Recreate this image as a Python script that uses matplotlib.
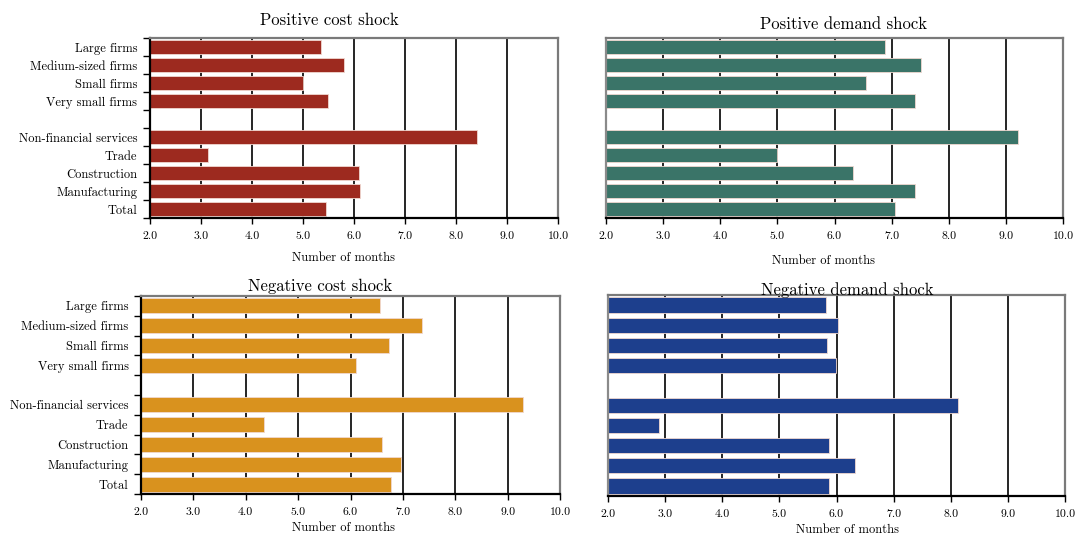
import matplotlib
matplotlib.use("Agg")
import matplotlib.pyplot as plt
from matplotlib.ticker import FixedLocator, FixedFormatter, NullFormatter

plt.rcParams['font.family'] = ['cmr10', 'DejaVu Serif']
plt.rcParams['axes.formatter.use_mathtext'] = True

# categories from top to bottom, '' is the empty gap row
categories = ["Large firms", "Medium-sized firms", "Small firms", "Very small firms", "",
              "Non-financial services", "Trade", "Construction", "Manufacturing", "Total"]

pos_cost = [5.35, 5.80, 5.00, 5.49, None, 8.42, 3.14, 6.10, 6.11, 5.45]
pos_demand = [6.89, 7.52, 6.56, 7.41, None, 9.21, 5.00, 6.32, 7.41, 7.06]
neg_cost = [6.57, 7.37, 6.74, 6.11, None, 9.30, 4.35, 6.61, 6.96, 6.78]
neg_demand = [5.82, 6.03, 5.83, 5.99, None, 8.13, 2.90, 5.87, 6.32, 5.87]

x_ticks = [2, 3, 4, 5, 6, 7, 8, 9, 10]
x_labels = ["2.0", "3.0", "4.0", "5.0", "6.0", "7.0", "8.0", "9.0", "10.0"]

W, H = 1075, 536
fig = plt.figure(figsize=(W / 100, H / 100), dpi=100)

panels = [
    # values, title, colour, axes rect (px: left, top, right, bottom), title px, xlabel px, labels?
    (pos_cost, "Positive cost shock", "#9d2a1f", (150, 38, 558, 218), (329, 20), (343, 258), True),
    (pos_demand, "Positive demand shock", "#3a7468", (606, 38, 1063, 218), (844, 24), (824, 261), False),
    (neg_cost, "Negative cost shock", "#d9921e", (141, 296, 560, 494), (320, 286), (344, 528), True),
    (neg_demand, "Negative demand shock", "#1d3f8d", (608, 295, 1065, 496), (847, 290), (848, 530), False),
]


def draw_panel(vals, title, color, rect, tpos, lpos, show_labels):
    l, t, r, b = rect
    ax = fig.add_axes([l / W, 1 - b / H, (r - l) / W, (b - t) / H])
    n = len(categories)
    ys = [n - 1 - i for i in range(n)]
    for y, v in zip(ys, vals):
        if v is None:
            continue
        ax.barh(y, v - 2, left=2, height=0.76, color=color,
                edgecolor="#f0d8d0", linewidth=0.6, zorder=3)
    ax.set_xlim(2, 10)
    ax.set_ylim(-0.5, n - 0.5)
    ax.xaxis.set_major_locator(FixedLocator(x_ticks))
    ax.xaxis.set_major_formatter(FixedFormatter(x_labels))
    ax.grid(axis="x", color="black", linewidth=1.2, zorder=1)
    ax.tick_params(axis="x", length=4, width=1, labelsize=8.5, pad=6)

    # tick marks between rows, labels at row centres
    ax.yaxis.set_major_locator(FixedLocator([i - 0.5 for i in range(n + 1)]))
    ax.yaxis.set_major_formatter(NullFormatter())
    ax.yaxis.set_minor_locator(FixedLocator(ys))
    if show_labels:
        ax.yaxis.set_minor_formatter(FixedFormatter(categories))
        ax.tick_params(axis="y", which="major", length=5, width=1)
        ax.spines["left"].set_color("black")
    else:
        ax.yaxis.set_minor_formatter(NullFormatter())
        ax.tick_params(axis="y", which="major", length=0)
        ax.spines["left"].set_color("#8a8a8a")
    ax.tick_params(axis="y", which="minor", length=0, labelsize=9, pad=9)

    ax.spines["bottom"].set_color("black")
    ax.spines["bottom"].set_linewidth(1.6)
    ax.spines["left"].set_linewidth(1.6)
    for s in ["top", "right"]:
        ax.spines[s].set_color("#7a7a7a")
        ax.spines[s].set_linewidth(1.6)
    for s in ax.spines.values():
        s.set_zorder(5)

    fig.text(tpos[0] / W, 1 - tpos[1] / H, title, ha="center", va="center", fontsize=12, zorder=10)
    fig.text(lpos[0] / W, 1 - lpos[1] / H, "Number of months", ha="center", va="center", fontsize=9)
    return ax


for p in panels:
    draw_panel(*p)

fig.savefig("out.png", dpi=100)
